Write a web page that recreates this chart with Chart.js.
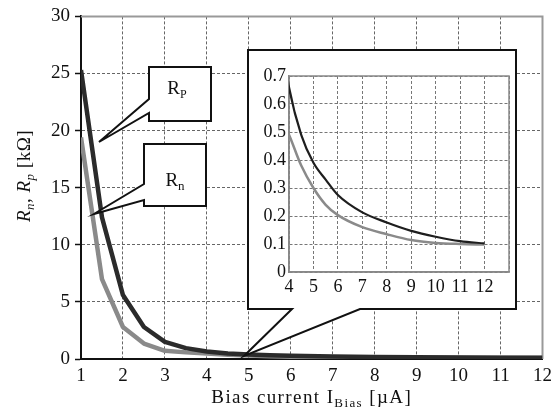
<!DOCTYPE html>
<html>
<head>
<meta charset="utf-8">
<script src="https://cdn.jsdelivr.net/npm/chart.js@4"></script>
<style>
  body { margin: 0; background: #fff; }
  #wrap { position: relative; width: 558px; height: 412px; }
  #main { display: block; }
  #inset { position: absolute; left: 248px; top: 50px; }
</style>
</head>
<body>
<div id="wrap">
  <canvas id="main" width="558" height="412"></canvas>
  <canvas id="inset" width="268" height="259"></canvas>
</div>
<script>
// Bias current in µA, resistances in kΩ
const biasCurrent = [1, 1.5, 2, 2.5, 3, 3.5, 4, 4.5, 5, 5.5, 6, 7, 8, 9, 10, 11, 12];
const rp = [25.3, 12.4, 5.6, 2.8, 1.5, 0.95, 0.66, 0.49, 0.39, 0.33, 0.275, 0.213, 0.177, 0.147, 0.126, 0.11, 0.102];
const rn = [19.4, 7.0, 2.8, 1.35, 0.72, 0.58, 0.49, 0.38, 0.30, 0.24, 0.203, 0.16, 0.135, 0.114, 0.104, 0.1, 0.098];

const mainXRange = [1, 12];
const mainYRange = [0, 30];
const insetXRange = [4, 13];
const insetYRange = [0, 0.7];
const insetLastLabel = 12;

const serif = "'Liberation Serif', 'Times New Roman', serif";
const dark = '#2b2b2b';
const gray = '#8a8a8a';

function points(ys) {
  return biasCurrent.map((x, i) => ({ x: x, y: ys[i] }));
}

// text with a lowered, smaller part: [[text, size, italic, sub], ...]
function richText(ctx, parts, x, y, align) {
  let total = 0;
  parts.forEach(p => {
    ctx.font = (p[2] ? 'italic ' : '') + p[1] + 'px ' + serif;
    total += ctx.measureText(p[0]).width;
  });
  let cx = align === 'center' ? x - total / 2 : x;
  parts.forEach(p => {
    ctx.font = (p[2] ? 'italic ' : '') + p[1] + 'px ' + serif;
    ctx.fillText(p[0], cx, y + (p[3] ? 4 : 0));
    cx += ctx.measureText(p[0]).width;
  });
}

function callout(ctx, pts) {
  ctx.beginPath();
  ctx.moveTo(pts[0][0], pts[0][1]);
  for (let i = 1; i < pts.length; i++) ctx.lineTo(pts[i][0], pts[i][1]);
  ctx.closePath();
  ctx.fillStyle = '#fff';
  ctx.fill();
  ctx.lineWidth = 2;
  ctx.strokeStyle = '#111';
  ctx.lineJoin = 'miter';
  ctx.stroke();
}

const mainDecor = {
  id: 'mainDecor',
  beforeDraw(chart) {
    const ctx = chart.ctx;
    ctx.save();
    ctx.fillStyle = '#fff';
    ctx.fillRect(0, 0, chart.width, chart.height);
    ctx.restore();
  },
  beforeDatasetsDraw(chart) {
    const ctx = chart.ctx;
    const a = chart.chartArea;
    ctx.save();
    ctx.strokeStyle = '#999';
    ctx.lineWidth = 2;
    ctx.beginPath();
    ctx.moveTo(a.left, a.top);
    ctx.lineTo(a.right, a.top);
    ctx.lineTo(a.right, a.bottom);
    ctx.stroke();
    ctx.restore();
  },
  afterDraw(chart) {
    const ctx = chart.ctx;
    ctx.save();
    // Rp and Rn labels
    callout(ctx, [[149, 67], [211, 67], [211, 121], [149, 121], [149, 113], [99, 142], [149, 99]]);
    callout(ctx, [[144, 144], [206, 144], [206, 206], [144, 206], [144, 200], [94, 214], [144, 184]]);
    // inset frame
    callout(ctx, [[248, 50], [516, 50], [516, 309], [360, 309], [244, 356], [292, 309], [248, 309]]);

    ctx.fillStyle = '#111';
    ctx.textBaseline = 'alphabetic';
    richText(ctx, [['R', 19, false, false], ['P', 12, false, true]], 177, 94, 'center');
    richText(ctx, [['R', 19, false, false], ['n', 13, false, true]], 175, 186, 'center');

    // axis titles
    ctx.letterSpacing = '1.4px';
    richText(ctx, [['Bias current I', 19, false, false], ['Bias', 13, false, true], [' [\u00b5A]', 19, false, false]],
      (chart.chartArea.left + chart.chartArea.right) / 2, 403, 'center');
    ctx.letterSpacing = '0.5px';
    ctx.translate(30, 176);
    ctx.rotate(-Math.PI / 2);
    richText(ctx, [['R', 19, true, false], ['n', 13, true, true], [', ', 19, false, false],
      ['R', 19, true, false], ['p', 13, true, true], [' [k\u03a9]', 19, false, false]], 0, 0, 'center');
    ctx.restore();
  }
};

new Chart(document.getElementById('main'), {
  type: 'line',
  data: {
    datasets: [
      { label: 'Rp', data: points(rp), borderColor: dark, borderWidth: 4.5, pointRadius: 0, tension: 0, borderJoinStyle: 'round' },
      { label: 'Rn', data: points(rn), borderColor: gray, borderWidth: 4.5, pointRadius: 0, tension: 0, borderJoinStyle: 'round' }
    ]
  },
  options: {
    responsive: false,
    animation: false,
    layout: { padding: { top: 14, right: 12, left: 0, bottom: 0 } },
    plugins: { legend: { display: false }, tooltip: { enabled: false } },
    scales: {
      x: {
        type: 'linear',
        min: mainXRange[0],
        max: mainXRange[1],
        afterFit: s => { s.height = 53; },
        ticks: { stepSize: 1, color: '#111', padding: 6, font: { family: serif, size: 19 } },
        grid: { color: '#666', lineWidth: 1, drawTicks: false },
        border: { color: '#111', width: 2, dash: [3, 2] }
      },
      y: {
        min: mainYRange[0],
        max: mainYRange[1],
        afterFit: s => { s.width = 81; },
        ticks: { stepSize: 5, color: '#111', padding: 5, font: { family: serif, size: 19 } },
        grid: { color: '#666', lineWidth: 1, tickLength: 6, tickColor: '#111', tickWidth: 1.5, tickBorderDash: [] },
        border: { color: '#111', width: 2, dash: [3, 2] }
      }
    }
  },
  plugins: [mainDecor]
});

const insetFrame = {
  id: 'insetFrame',
  beforeDatasetsDraw(chart) {
    const ctx = chart.ctx;
    const a = chart.chartArea;
    ctx.save();
    ctx.strokeStyle = '#888';
    ctx.lineWidth = 1.5;
    ctx.strokeRect(a.left, a.top, a.right - a.left, a.bottom - a.top);
    ctx.restore();
  }
};

new Chart(document.getElementById('inset'), {
  type: 'line',
  data: {
    datasets: [
      { label: 'Rp', data: points(rp), borderColor: '#1e1e1e', borderWidth: 2.2, pointRadius: 0, cubicInterpolationMode: 'monotone' },
      { label: 'Rn', data: points(rn), borderColor: gray, borderWidth: 2.5, pointRadius: 0, cubicInterpolationMode: 'monotone' }
    ]
  },
  options: {
    responsive: false,
    animation: false,
    layout: { padding: { top: 26, right: 7, left: 0, bottom: 0 } },
    plugins: { legend: { display: false }, tooltip: { enabled: false } },
    scales: {
      x: {
        type: 'linear',
        min: insetXRange[0],
        max: insetXRange[1],
        afterFit: s => { s.height = 37; },
        ticks: {
          stepSize: 1, color: '#111', padding: 4, maxRotation: 0, autoSkip: false,
          font: { family: serif, size: 18 },
          callback: v => (v <= insetLastLabel ? String(v) : '')
        },
        grid: { color: '#777', lineWidth: 1, drawTicks: false },
        border: { color: '#888', width: 1.5, dash: [3, 2] }
      },
      y: {
        min: insetYRange[0],
        max: insetYRange[1],
        afterFit: s => { s.width = 41; },
        ticks: {
          stepSize: 0.1, color: '#111', padding: 3,
          font: { family: serif, size: 18 },
          callback: v => (Math.abs(v) < 1e-9 ? '0' : v.toFixed(1))
        },
        grid: { color: '#777', lineWidth: 1, drawTicks: false },
        border: { color: '#888', width: 1.5, dash: [3, 2] }
      }
    }
  },
  plugins: [insetFrame]
});
</script>
</body>
</html>
